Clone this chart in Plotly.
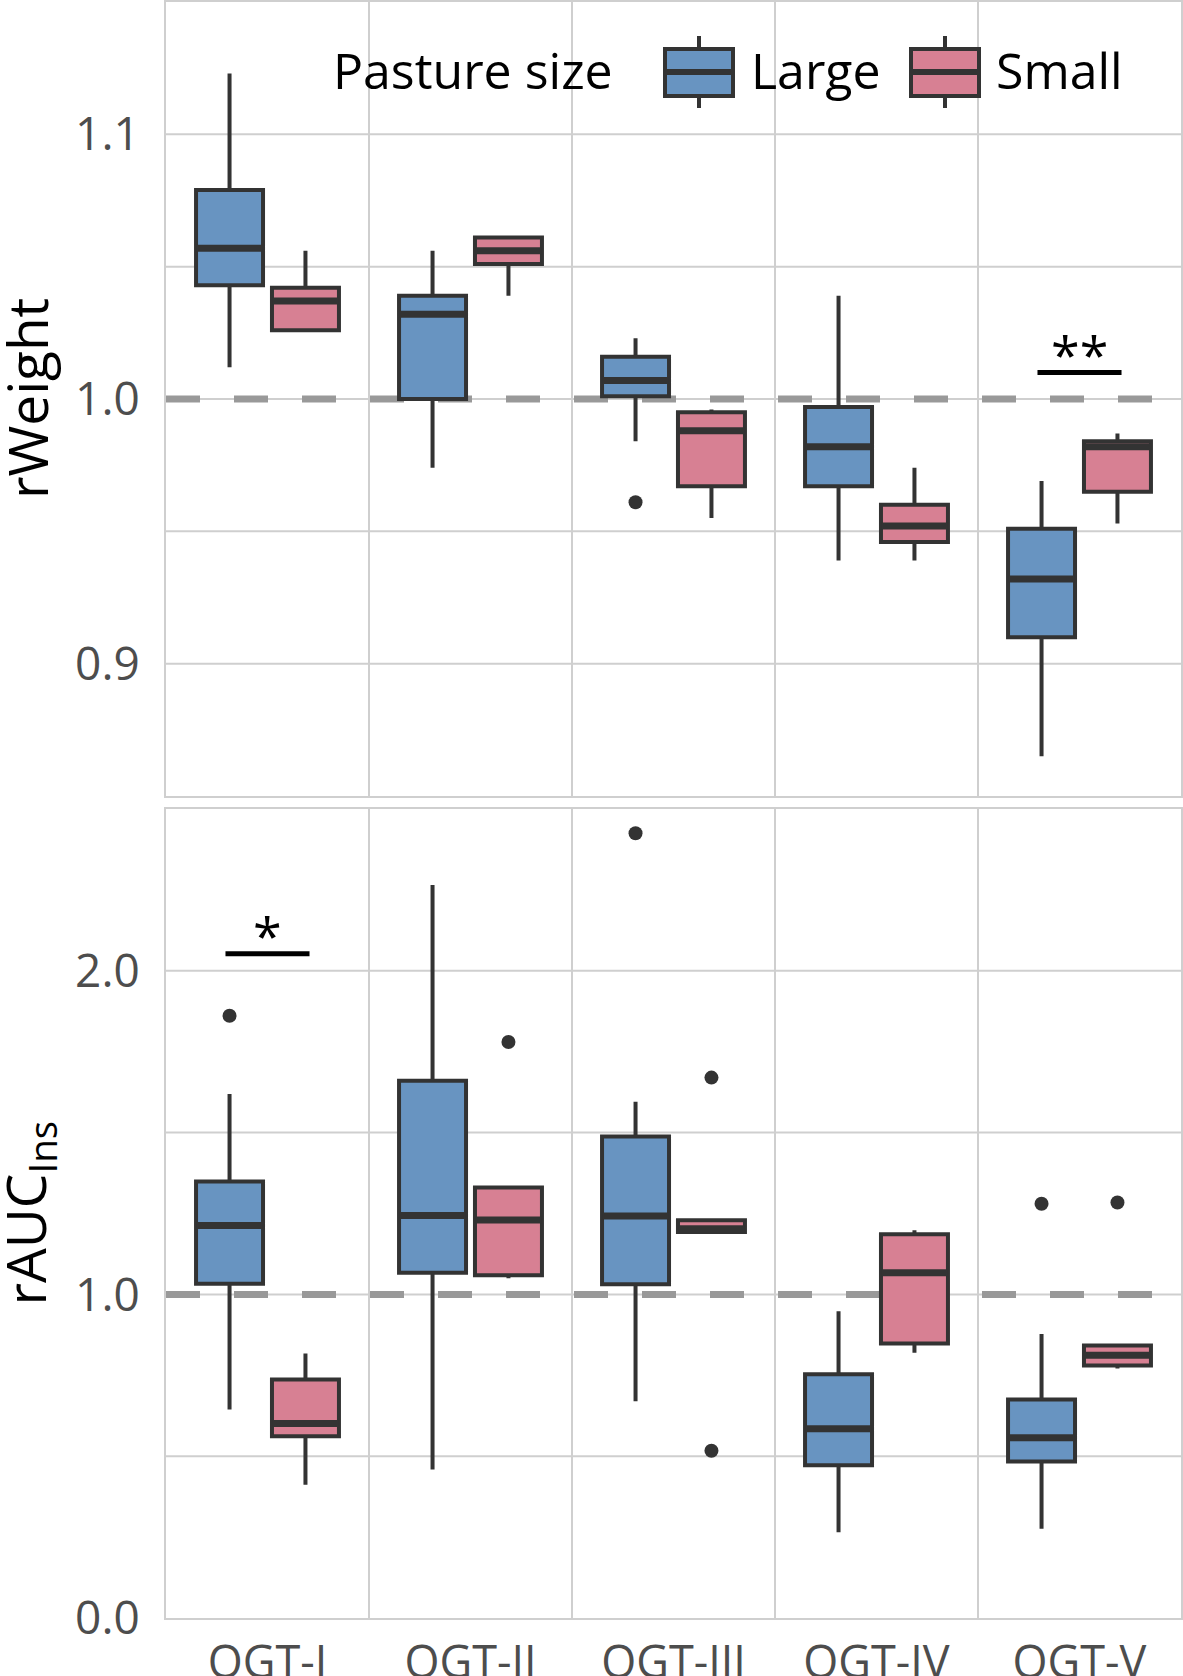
import plotly.graph_objects as go

categories = ["OGT-I", "OGT-II", "OGT-III", "OGT-IV", "OGT-V"]
groups = ["Large", "Small"]

# rWeight panel: whisker low, q1, median, q3, whisker high
w_large_low = [1.012, 0.974, 0.984, 0.939, 0.865]
w_large_q1 = [1.043, 1.000, 1.001, 0.967, 0.910]
w_large_med = [1.057, 1.032, 1.007, 0.982, 0.932]
w_large_q3 = [1.079, 1.039, 1.016, 0.997, 0.951]
w_large_high = [1.123, 1.056, 1.023, 1.039, 0.969]
w_small_low = [1.026, 1.039, 0.955, 0.939, 0.953]
w_small_q1 = [1.026, 1.051, 0.967, 0.946, 0.965]
w_small_med = [1.037, 1.056, 0.988, 0.952, 0.982]
w_small_q3 = [1.042, 1.061, 0.995, 0.960, 0.984]
w_small_high = [1.056, 1.061, 0.996, 0.974, 0.987]
w_large_out_cat = ["OGT-III"]
w_large_out = [0.961]
w_small_out_cat = []
w_small_out = []

# rAUC_Ins panel
a_large_low = [0.644, 0.459, 0.670, 0.265, 0.276]
a_large_q1 = [1.033, 1.067, 1.031, 0.472, 0.484]
a_large_med = [1.213, 1.244, 1.242, 0.585, 0.557]
a_large_q3 = [1.349, 1.660, 1.488, 0.753, 0.675]
a_large_high = [1.619, 2.265, 1.595, 0.948, 0.878]
a_small_low = [0.412, 1.050, 1.193, 0.820, 0.771]
a_small_q1 = [0.562, 1.059, 1.193, 0.848, 0.780]
a_small_med = [0.601, 1.230, 1.203, 1.067, 0.812]
a_small_q3 = [0.737, 1.330, 1.229, 1.186, 0.842]
a_small_high = [0.817, 1.330, 1.229, 1.198, 0.842]
a_large_out_cat = ["OGT-I", "OGT-III", "OGT-V"]
a_large_out = [1.861, 2.425, 1.280]
a_small_out_cat = ["OGT-II", "OGT-III", "OGT-III", "OGT-V"]
a_small_out = [1.780, 1.670, 0.517, 1.284]

# significance bars: (category, y of bar, label)
w_sig = [("OGT-V", 1.010, "**")]
a_sig = [("OGT-I", 2.053, "*")]

# axis ticks and grid
w_ticks = [0.9, 1.0, 1.1]
w_grid = [0.9, 0.95, 1.0, 1.05, 1.1]
a_ticks = [0.0, 1.0, 2.0]
a_grid = [0.5, 1.0, 1.5, 2.0]
ref_level = 1.0
y_titles = ["rWeight", "rAUC<sub>Ins</sub>"]

colors = {"Large": "#6894c1", "Small": "#d78093"}
dark = "#333333"
grid = "#cfcfcf"
font = "Open Sans"

W, H = 1183, 1676
L, R, T, B = 166, 2, 2, 58
dodge = {"Large": -0.187, "Small": 0.187}
boxw = 0.33


def cx(cat, g):
    return categories.index(cat) + dodge[g]


fig = go.Figure()

panels = [
    ("x", "y", {"Large": (w_large_low, w_large_q1, w_large_med, w_large_q3, w_large_high, w_large_out_cat, w_large_out),
                "Small": (w_small_low, w_small_q1, w_small_med, w_small_q3, w_small_high, w_small_out_cat, w_small_out)}),
    ("x2", "y2", {"Large": (a_large_low, a_large_q1, a_large_med, a_large_q3, a_large_high, a_large_out_cat, a_large_out),
                  "Small": (a_small_low, a_small_q1, a_small_med, a_small_q3, a_small_high, a_small_out_cat, a_small_out)}),
]

for xa, ya, data in panels:
    for g in groups:
        lo, q1, med, q3, hi, ocat, oval = data[g]
        xs = [cx(c, g) for c in categories]
        fig.add_trace(go.Box(
            x=xs, q1=q1, median=med, q3=q3, lowerfence=lo, upperfence=hi,
            width=boxw, whiskerwidth=0, boxpoints=False,
            fillcolor=colors[g], line=dict(color=dark, width=4),
            xaxis=xa, yaxis=ya, showlegend=False, hoverinfo="skip"))
        # thicker median bar
        fig.add_trace(go.Scatter(
            x=xs, y=med, mode="markers",
            marker=dict(symbol="line-ew", size=47, line=dict(color=dark, width=7)),
            xaxis=xa, yaxis=ya, showlegend=False, hoverinfo="skip"))
        if oval:
            fig.add_trace(go.Scatter(
                x=[cx(c, g) for c in ocat], y=oval, mode="markers",
                marker=dict(color=dark, size=14),
                xaxis=xa, yaxis=ya, showlegend=False, hoverinfo="skip"))

shapes = []
annotations = []
for xa, ya, sig, gvals in [("x", "y", w_sig, w_grid), ("x2", "y2", a_sig, a_grid)]:
    # horizontal grid, then the dashed reference line on top of it (both under the boxes)
    for gv in gvals:
        shapes.append(dict(type="line", xref="paper", yref=ya, x0=0, x1=1, y0=gv, y1=gv,
                           line=dict(color=grid, width=2), layer="below"))
    shapes.append(dict(type="line", xref="paper", yref=ya, x0=0, x1=1, y0=ref_level, y1=ref_level,
                       line=dict(color="#999999", width=7, dash="34px,34px"), layer="below"))
    for cat, yv, lab in sig:
        shapes.append(dict(type="line", xref=xa, yref=ya, x0=cx(cat, "Large") - 0.02, x1=cx(cat, "Small") + 0.02,
                           y0=yv, y1=yv, line=dict(color="black", width=5)))
        annotations.append(dict(x=categories.index(cat), y=yv, xref=xa, yref=ya, text=lab, showarrow=False,
                                yanchor="middle", yshift=19, font=dict(size=52, color="black", family=font)))


# legend and y titles placed in page pixels
def px(v):
    return (v - L) / (W - L - R)


def py(v):
    return (H - B - v) / (H - T - B)


annotations.append(dict(x=px(331), y=py(70), xref="paper", yref="paper", text="Pasture size", showarrow=False,
                        xanchor="left", yanchor="middle", font=dict(size=50, color="black", family=font)))
for g, x0, tx in [("Large", 665, 749), ("Small", 911, 994)]:
    x1 = x0 + 68
    xm = (x0 + x1) / 2
    shapes.append(dict(type="line", xref="paper", yref="paper", x0=px(xm), x1=px(xm), y0=py(36), y1=py(108),
                       line=dict(color=dark, width=4)))
    shapes.append(dict(type="rect", xref="paper", yref="paper", x0=px(x0), x1=px(x1), y0=py(49), y1=py(96),
                       fillcolor=colors[g], line=dict(color=dark, width=4)))
    shapes.append(dict(type="line", xref="paper", yref="paper", x0=px(x0), x1=px(x1), y0=py(72), y1=py(72),
                       line=dict(color=dark, width=6)))
    annotations.append(dict(x=px(tx), y=py(70), xref="paper", yref="paper", text=g, showarrow=False,
                            xanchor="left", yanchor="middle", font=dict(size=50, color="black", family=font)))

top_dom = [(H - B - 796) / (H - T - B), 1]
bot_dom = [0, (H - B - 809) / (H - T - B)]

for title, dom in zip(y_titles, [top_dom, bot_dom]):
    annotations.append(dict(x=px(27), y=sum(dom) / 2, xref="paper", yref="paper", text=title, showarrow=False,
                            textangle=-90, xanchor="center", yanchor="middle",
                            font=dict(size=55, color="black", family=font)))

xcommon = dict(range=[-0.5, 4.5], tickmode="array", tickvals=list(range(len(categories))), ticktext=categories,
               showgrid=False, zeroline=False, showline=True, mirror=True, linecolor=grid, linewidth=2,
               ticks="", automargin=False,
               minor=dict(tickmode="array", tickvals=[i + 0.5 for i in range(len(categories) - 1)],
                          showgrid=True, gridcolor=grid, gridwidth=2, ticks=""),
               tickfont=dict(size=45, color="#4d4d4d", family=font))
ycommon = dict(showgrid=False, zeroline=False, showline=True, mirror=True,
               linecolor=grid, linewidth=2, ticks="", automargin=False, ticklabelstandoff=15,
               tickfont=dict(size=46, color="#4d4d4d", family=font))

fig.update_layout(
    width=W, height=H,
    margin=dict(l=L, r=R, t=T, b=B),
    paper_bgcolor="white", plot_bgcolor="white",
    font=dict(family=font),
    showlegend=False,
    boxmode="overlay",
    xaxis=dict(xcommon, anchor="y", showticklabels=False),
    xaxis2=dict(xcommon, anchor="y2", matches="x", ticklabelstandoff=4),
    yaxis=dict(ycommon, domain=top_dom, range=[0.85, 1.15], tickmode="array", tickvals=w_ticks,
               ticktext=[f"{v:.1f}" for v in w_ticks]),
    yaxis2=dict(ycommon, domain=bot_dom, range=[0, 2.5], tickmode="array", tickvals=a_ticks,
                ticktext=[f"{v:.1f}" for v in a_ticks]),
    shapes=shapes,
    annotations=annotations,
)

fig.write_html("out.html", config={"displayModeBar": False},
               post_script="document.body.style.margin='0px';")
